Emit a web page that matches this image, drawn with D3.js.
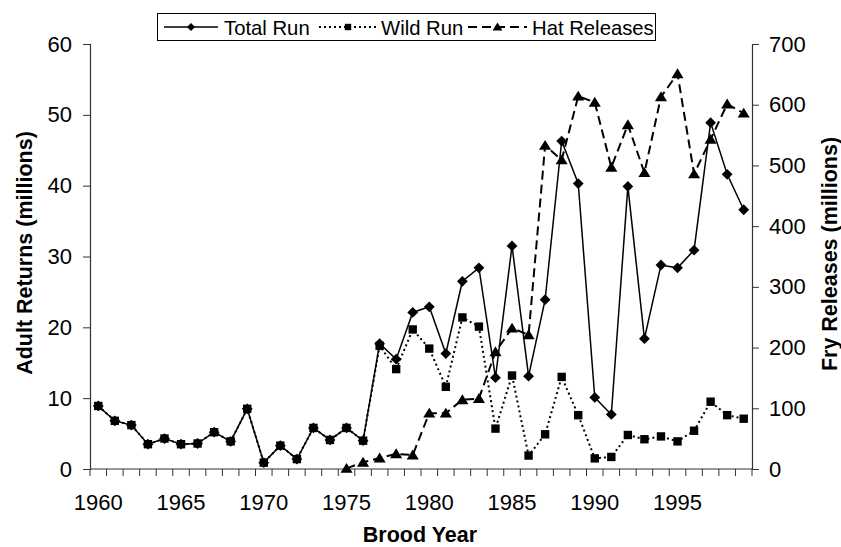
<!DOCTYPE html>
<html>
<head>
<meta charset="utf-8">
<script src="https://cdn.jsdelivr.net/npm/d3@7/dist/d3.min.js"></script>
<style>
  html, body { margin: 0; padding: 0; background: #fff; }
  svg { display: block; }
  text { font-family: "Liberation Sans", Arial, Helvetica, sans-serif; fill: #000; }
</style>
</head>
<body>
<svg id="chart" width="841" height="547"></svg>
<script>
const years = d3.range(1960, 2000);
const yearLabels = [1960, 1965, 1970, 1975, 1980, 1985, 1990, 1995];
const totalRun = [8.9, 6.8, 6.2, 3.5, 4.3, 3.5, 3.6, 5.2, 3.9, 8.5,
                  0.9, 3.3, 1.4, 5.8, 4.1, 5.8, 4.0, 17.7, 15.5, 22.1,
                  22.9, 16.3, 26.5, 28.4, 12.9, 31.5, 13.1, 23.9, 46.3, 40.3,
                  10.1, 7.7, 39.9, 18.4, 28.8, 28.4, 30.9, 48.9, 41.6, 36.6];
const wildRun = [8.9, 6.8, 6.2, 3.5, 4.3, 3.5, 3.6, 5.2, 3.9, 8.5,
                 0.9, 3.3, 1.4, 5.8, 4.1, 5.8, 4.0, 17.4, 14.1, 19.7,
                 17.0, 11.6, 21.4, 20.1, 5.7, 13.2, 1.9, 4.9, 13.0, 7.6,
                 1.5, 1.7, 4.8, 4.2, 4.6, 3.9, 5.4, 9.5, 7.6, 7.1];
const hatYears = d3.range(1975, 2000);
const hatReleases = [1, 11, 18, 25, 23, 92, 92, 114, 116, 193,
                     232, 221, 533, 509, 614, 604, 497, 567, 488, 613,
                     651, 486, 543, 601, 586];
const leftTicks = [0, 10, 20, 30, 40, 50, 60];
const rightTicks = [0, 100, 200, 300, 400, 500, 600, 700];

const svg = d3.select("#chart");
const plot = { left: 90, right: 752, top: 44, bottom: 469 };

const x = d3.scaleBand().domain(years).range([plot.left, plot.right]).padding(0);
const yL = d3.scaleLinear().domain([0, 60]).range([plot.bottom, plot.top]);
const yR = d3.scaleLinear().domain([0, 700]).range([plot.bottom, plot.top]);
const cx = d => x(d) + x.bandwidth() / 2;

const axisColor = "#333";
const tickFont = 22;
const legendFont = 20.3;
const titleFont = 21.5;

// Left axis
const gL = svg.append("g").attr("transform", `translate(${plot.left},0)`)
  .call(d3.axisLeft(yL).tickValues(leftTicks).tickSize(7).tickPadding(11).tickFormat(d3.format("d")));
// Right axis
const gR = svg.append("g").attr("transform", `translate(${plot.right},0)`)
  .call(d3.axisRight(yR).tickValues(rightTicks).tickSize(7).tickPadding(10).tickFormat(d3.format("d")));
// X axis: labels centred on categories, tick marks between categories
const gX = svg.append("g").attr("transform", `translate(0,${plot.bottom})`)
  .call(d3.axisBottom(x).tickValues(yearLabels).tickSize(0).tickPadding(25));
const boundaries = years.map(y => x(y)).concat([plot.right]);
gX.selectAll("line.bnd").data(boundaries).enter().append("line")
  .attr("class", "bnd")
  .attr("x1", d => d).attr("x2", d => d).attr("y1", 0).attr("y2", 7)
  .attr("stroke", axisColor).attr("stroke-width", 1);

[gL, gR, gX].forEach(g => {
  g.selectAll("path.domain").attr("stroke", axisColor).attr("stroke-width", 1.2);
  g.selectAll(".tick line").attr("stroke", axisColor).attr("stroke-width", 1);
  g.selectAll(".tick text").style("font-size", tickFont + "px")
    .style("font-family", '"Liberation Sans", Arial, sans-serif').attr("fill", "#000");
});
gX.select("path.domain").attr("d", `M${plot.left},0H${plot.right}`);

// Axis titles
svg.append("text").attr("transform", "translate(32,253) rotate(-90)")
  .attr("text-anchor", "middle").style("font-size", titleFont + "px").style("font-weight", "bold")
  .text("Adult Returns (millions)");
svg.append("text").attr("transform", "translate(837,254) rotate(-90)")
  .attr("text-anchor", "middle").style("font-size", titleFont + "px").style("font-weight", "bold")
  .text("Fry Releases (millions)");
svg.append("text").attr("x", 420).attr("y", 542)
  .attr("text-anchor", "middle").style("font-size", titleFont + "px").style("font-weight", "bold")
  .text("Brood Year");

// Marker paths
const diamond = r => `M0,${-r}L${r},0L0,${r}L${-r},0Z`;
const square = r => `M${-r},${-r}H${r}V${r}H${-r}Z`;
const triangle = r => `M0,${-r}L${r * 1.1},${r * 0.8}L${-r * 1.1},${r * 0.8}Z`;

// Lines
const totalData = years.map((yr, i) => ({ yr, v: totalRun[i] }));
const wildData = years.map((yr, i) => ({ yr, v: wildRun[i] }));
const hatData = hatYears.map((yr, i) => ({ yr, v: hatReleases[i] }));

const lineL = d3.line().x(d => cx(d.yr)).y(d => yL(d.v));
const lineR = d3.line().x(d => cx(d.yr)).y(d => yR(d.v));

svg.append("path").datum(hatData).attr("d", lineR)
  .attr("fill", "none").attr("stroke", "#000").attr("stroke-width", 2).attr("stroke-dasharray", "9,5");
svg.append("path").datum(wildData).attr("d", lineL)
  .attr("fill", "none").attr("stroke", "#000").attr("stroke-width", 2).attr("stroke-dasharray", "2,3");
svg.append("path").datum(totalData).attr("d", lineL)
  .attr("fill", "none").attr("stroke", "#000").attr("stroke-width", 1.5);

svg.append("g").selectAll("path").data(hatData).enter().append("path")
  .attr("d", triangle(5.5)).attr("transform", d => `translate(${cx(d.yr)},${yR(d.v)})`).attr("fill", "#000");
svg.append("g").selectAll("path").data(wildData).enter().append("path")
  .attr("d", square(4.2)).attr("transform", d => `translate(${cx(d.yr)},${yL(d.v)})`).attr("fill", "#000");
svg.append("g").selectAll("path").data(totalData).enter().append("path")
  .attr("d", diamond(5.4)).attr("transform", d => `translate(${cx(d.yr)},${yL(d.v)})`).attr("fill", "#000");

// Legend
const lg = svg.append("g");
lg.append("rect").attr("x", 157.5).attr("y", 13.5).attr("width", 498).attr("height", 27)
  .attr("fill", "#fff").attr("stroke", "#000").attr("stroke-width", 1);
const legendItems = [
  { label: "Total Run", x1: 164, x2: 218, text: 224, dash: null, w: 1.5, shape: diamond(4) },
  { label: "Wild Run", x1: 319, x2: 377, text: 381, dash: "2,3", w: 2, shape: square(3.2) },
  { label: "Hat Releases", x1: 468, x2: 527, text: 532, dash: "9,5", w: 2, shape: triangle(4.5) }
];
legendItems.forEach(it => {
  lg.append("line").attr("x1", it.x1).attr("x2", it.x2).attr("y1", 27).attr("y2", 27)
    .attr("stroke", "#000").attr("stroke-width", it.w).attr("stroke-dasharray", it.dash);
  lg.append("path").attr("d", it.shape).attr("transform", `translate(${(it.x1 + it.x2) / 2},27)`).attr("fill", "#000");
  lg.append("text").attr("x", it.text).attr("y", 34.5).style("font-size", legendFont + "px").text(it.label);
});
</script>
</body>
</html>
